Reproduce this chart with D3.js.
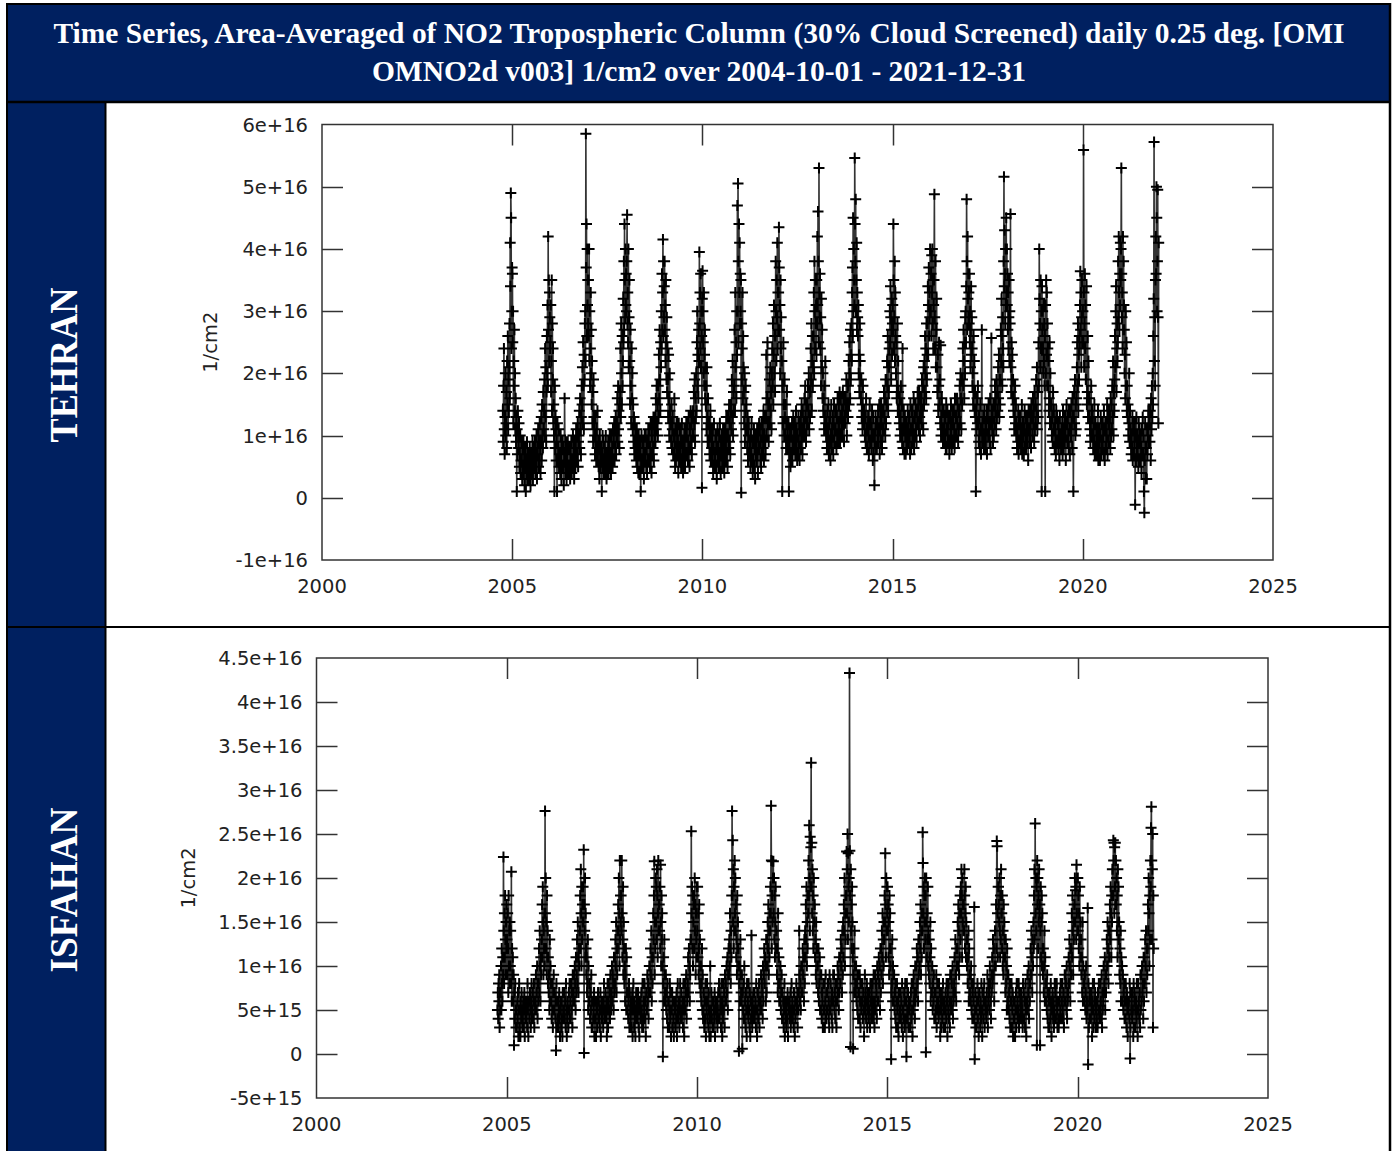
<!DOCTYPE html>
<html>
<head>
<meta charset="utf-8">
<script src="https://cdn.jsdelivr.net/npm/d3@7"></script>
<style>
  html, body { margin: 0; padding: 0; background: #fff; }
  svg { display: block; }
</style>
</head>
<body>
<svg id="chart" width="1395" height="1151"></svg>
<script>
// Area-averaged OMI NO2 tropospheric column in units of 1e15 molecules/cm2.
// Each year holds one row per month (2004 starts in October); the samples of a
// row are spread evenly over that month.
const tehran2004 = [[14,9,18,24,11,7,13,20,10],[12,17,8,22,15,26,11,19,14],[21,28,16,41,34,49,45,24,30,37]];
const tehran2005 = [[36,25,30,12,22,18,27,14,20,11],[16,9,13,1,11,7,14,10],[8,12,5,7,10,4,6,9],[6,3,8,5,9,4,7,2],[5,8,1,6,4,9,3,7],[5,3,7,4,8,6,2,5],[4,7,5,9,3,6,8,5],[6,9,4,7,5,10,3,8],[7,11,5,9,6,12,8,4],[9,13,6,15,10,8,17,11],[14,19,10,24,13,21,9,17,26],[20,31,18,42,27,35,22,33,29,24]];
const tehran2006 = [[25,31,17,22,35,14,28,19,24,12],[15,10,1,18,8,13,11,6],[9,1,12,6,8,11,5,7],[7,4,10,6,3,8,5,9],[5,8,2,6,16,7,4,9],[6,3,7,5,9,4,8,5],[8,5,3,7,6,9,4,6],[6,10,5,8,3,7,9,5],[8,11,6,10,7,12,5,9],[10,14,8,16,11,7,13,18],[15,21,12,25,18,11,23,19,28],[30,22,58.5,37,44,26,40,31,35,28]];
const tehran2007 = [[35,26,40,22,30,18,24,33,20,27],[15,22,12,17,9,19,13,11],[10,7,13,9,6,11,8,14],[6,9,5,8,3,10,7,5],[8,6,1,7,10,5,9,4],[6,8,4,7,10,5,3,7],[7,5,9,4,8,6,10,5],[7,4,10,6,8,5,11,6],[9,12,6,11,8,13,7,10],[12,16,9,18,11,14,8,15],[17,24,13,28,20,15,26,18,22],[32,25,38,27,44,35,29,40,31,36]];
const tehran2008 = [[30,38,45.5,28,33,25,40,21,29,35],[22,15,27,18,12,24,16,20],[11,15,9,13,7,12,8,10],[8,6,11,5,9,7,4,10],[7,9,4,8,1,6,10,5],[6,9,5,8,3,7,10,6],[7,10,5,8,4,9,6,11],[9,6,11,5,8,12,7,4],[10,7,12,8,13,6,11,9],[13,9,16,11,18,12,15,10],[18,13,23,16,27,19,14,25,21],[30,24,36,27,33,41.5,26,38,29,34]];
const tehran2009 = [[38,27,31,22,35,25,19,29,17,24],[19,13,23,16,10,20,14,12],[12,9,15,8,11,13,7,10],[7,16,9,5,11,6,8,12],[10,7,9,4,12,6,8,11],[7,10,5,9,12,6,8,4],[9,6,11,8,5,10,7,12],[10,7,12,6,9,13,8,5],[11,8,14,9,12,7,13,10],[14,10,17,12,19,9,16,13],[20,14,25,30,18,23,16,27,22],[39.5,28,33,24,36,21,30,26,1.6,32]];
const tehran2010 = [[36.5,30,25,20,33,18,23,27,16,21],[15,18,11,21,13,9,16,12],[9,12,7,10,14,6,11,8],[9,6,11,4,8,12,5,7],[7,10,5,9,3,8,11,6],[8,5,10,6,12,7,4,9],[7,10,5,8,11,6,9,4],[8,11,6,9,13,7,10,5],[10,13,8,15,9,12,7,14],[15,11,19,13,22,10,17,14],[18,27,14,33,21,25,16,30,23],[47,30,50.5,38,25,44,33,41,28,36]];
const tehran2011 = [[30,35,0.8,28,19,24,33,16,26,21],[17,12,20,9,14,18,11,15],[11,8,13,6,10,12,7,9],[8,5,10,7,12,6,9,4],[6,9,11,5,8,3,10,7],[9,6,11,7,4,10,8,12],[8,11,6,9,5,12,7,10],[12,8,14,6,10,13,9,7],[13,23,10,16,25,12,15,9],[15,19,12,21,14,17,11,20],[24,18,28,15,23,31,20,26,17],[26,38,30,22,35,29,41,24,33,27]];
const tehran2012 = [[33,43.5,37,27,31,20,35,24,29,22],[22,1,18,12,25,15,10,19],[13,10,15,8,12,17,9,11],[8,12,1,9,7,11,5,10],[10,7,12,6,9,13,8,11],[9,12,7,10,14,8,11,6],[10,7,13,9,12,6,11,8],[13,9,15,11,7,14,10,12],[12,16,10,18,13,9,15,11],[15,12,18,14,20,11,17,13],[17,24,19,28,14,22,26,18,21],[26,33,20,38,30,24,35,28,31,23]];
const tehran2013 = [[35,28,42,31,46,38,25,53,33,29],[36,24,29,18,32,21,27,16],[20,14,16,11,18,13,22,12],[10,12,8,14,9,11,15,7],[12,9,13,6,10,15,8,11],[10,13,7,12,15,9,11,14],[11,14,8,13,10,16,9,12],[15,11,17,9,13,16,10,12],[14,10,17,12,15,9,13,16],[12,16,14,19,10,15,18,13],[18,22,15,25,20,16,27,19,23],[28,22,33,37,26,45,30,40,35,31]];
const tehran2014 = [[54.6,44,38,48,30,35,41,27,33,29],[26,31,20,23,17,28,22,19],[16,19,13,15,11,18,12,14],[12,14,10,13,9,16,11,8],[11,8,13,10,7,12,15,9],[9,12,8,11,14,10,6,13],[7,10,2,9,11,13,8,12],[8,12,10,14,9,11,15,7],[11,13,9,15,12,8,14,10],[14,11,17,13,16,10,19,12],[19,15,22,18,26,14,21,17,24],[21,30,25,34,29,19,27,32,23,28]];
const tehran2015 = [[31,27,44,35,24,29,38,22,33,26],[20,25,16,18,28,14,22,17],[14,12,16,10,13,18,11,15],[9,24,8,11,14,12,7,13],[10,7,12,9,11,8,14,10],[12,9,13,10,7,15,11,8],[11,14,9,12,10,16,8,13],[13,10,15,11,9,14,12,17],[12,15,11,17,13,10,16,14],[16,12,19,14,18,11,21,15],[22,17,26,20,24,16,28,19,23],[28,34,23,31,37,26,33,29,40,30]];
const tehran2016 = [[30,36,26,39,33,40,28,35,24,31],[35,48.8,29,24,38,21,27,32],[21,17,23,14,18,25,15,19],[12,24.5,10,13,16,11,14,9],[11,14,9,12,10,13,8,15],[8,11,14,10,12,9,13,7],[9,13,11,15,10,8,12,14],[12,9,14,11,8,16,10,13],[13,10,16,12,15,9,14,11],[14,18,12,20,16,11,19,15],[19,24,18,27,22,16,25,20,29],[30,25,34,48,38,27,42,32,36,29]];
const tehran2017 = [[33,28,36,25,30,21,27,34,23,29],[24,18,20,15,26,17,22,14],[17,13,1,14,11,16,12,18],[12,9,13,10,8,15,11,7],[11,27,9,12,10,13,8,14],[10,8,12,9,11,14,7,13],[13,10,15,11,9,12,16,8],[12,25.7,14,11,13,9,15,10],[15,12,18,14,16,11,19,13],[17,14,21,16,23,13,19,15],[19,27,22,32,26,18,29,24,21],[38,51.6,34,43,36,28,40,31,45,33]];
const tehran2018 = [[40,31,36,27,33,24,29,35,22,30],[28,45.6,21,17,25,19,23,16],[19,14,16,11,13,18,12,15],[10,12,8,11,9,14,7,13],[12,9,13,10,8,11,15,7],[9,12,10,7,11,14,8,13],[10,8,12,9,13,11,6,14],[11,9,14,10,12,8,15,13],[13,10,16,12,14,9,17,11],[15,12,19,14,21,11,17,13],[25,18,40,32,28,21,35,24,30],[1,34,27,30,24,20,31,22,28,18]];
const tehran2019 = [[26,1,31,20,35,23,33,18,28,24],[18,22,14,16,25,12,20,15],[12,15,10,13,9,17,11,14],[11,8,12,10,7,14,9,13],[9,12,8,11,10,6,13,9],[10,8,11,9,12,7,14,10],[8,11,9,13,10,6,12,15],[12,9,13,10,8,14,11,7],[11,14,10,15,12,8,16,13],[1,13,17,12,19,10,15,11],[16,21,25,18,28,14,23,19,26],[24,31,36.4,27,33,21,29,35,25,30]];
const tehran2020 = [[30,25,55.9,33,21,28,36,24,31,19],[19,34,15,17,26,13,22,16],[13,16,11,9,12,18,10,14],[10,13,8,11,9,15,7,12],[12,8,10,7,11,9,14,6],[8,11,9,6,10,13,7,12],[9,12,8,10,7,14,11,6],[11,8,12,9,10,15,7,13],[12,9,14,11,13,8,16,10],[15,11,18,13,22,10,17,14],[19,26,21,30,34,17,24,28,22],[25,38,29,42,33,27,36,31,41,35]];
const tehran2021 = [[40,53,36,29,33,24,42,27,38,31],[27,20,23,16,30,18,25,14],[18,13,15,10,12,20,9,14],[9,11,7,10,8,13,6,12],[11,7,9,12,-1.1,10,6,13],[8,10,7,9,5,12,6,11],[9,6,10,8,4,11,7,13],[7,10,1,-2.4,6,12,8,3],[8,3,11,7,10,14,9,12],[12,9,14,6,16,11,18,13],[20,15,26,32,57.2,22,29,18,35],[42,36,50,45,30,38,49.5,29,12,41]];

const isfahan2004 = [[5,7,4,8,6,9,3,7,5],[7,10,5,12,8,6,11,9,22.4],[14,8,16,11,18,13,9,15,12,17]];
const isfahan2005 = [[13,9,16,12,7,18,10,14,8,15],[10,14,8,20.7,6,12,9,11],[6,9,1,7,4,8,5,3],[5,3,6,4,7,2,5,8],[3,5,2,6,4,7,5,3],[4,6,3,5,7,2,6,4],[5,4,6,3,8,5,2,6],[6,4,7,5,3,6,8,4],[5,7,4,6,8,3,6,5],[6,9,5,7,10,4,8,6],[8,12,7,14,10,6,11,9,13],[13,17,11,19,15,9,14,12,16,10]];
const isfahan2006 = [[27.6,16,20,12,15,9,18,11,14,8],[11,7,9,5,13,6,10,8],[6,4,8,5,3,7,9,5],[5,7,4,6,0.4,8,3,6],[4,6,3,5,7,4,2,6],[5,3,6,4,2,7,5,4],[5,7,4,6,3,8,5,2],[4,6,5,3,7,5,8,4],[6,4,8,5,7,3,9,6],[7,9,6,10,8,5,11,7],[9,13,8,15,11,7,12,10,14],[14,18,12,21,16,10,19,13,17,15]];
const isfahan2007 = [[19,15,23.2,0.1,17,14,20,11,16,12],[9,11,7,8,13,5,10,6],[6,8,4,7,5,9,3,6],[3,6,4,5,7,2,6,4],[4,2,5,6,3,5,7,4],[6,4,3,5,7,2,5,6],[4,6,5,3,6,8,4,5],[5,7,4,6,2,5,8,3],[6,8,5,7,4,9,6,5],[7,10,6,9,8,5,11,7],[11,8,13,10,15,7,12,9,14],[12,17,14,20,16,10,22,13,18,15]];
const isfahan2008 = [[18,14,22,16,11,13,19,9,15,12],[8,10,6,9,12,5,11,7],[5,7,4,6,8,3,7,5],[4,6,3,5,7,2,6,8],[5,3,6,4,2,5,7,4],[6,4,5,7,3,6,2,5],[5,6,4,7,5,3,8,4],[3,6,5,8,4,6,2,7],[7,5,9,6,8,4,7,10],[10,7,12,9,14,6,11,8],[11,16,13,18,21.9,9,15,12,20],[15,19,13,21,18,11,16,22,14,17]];
const isfahan2009 = [[17,14,19,12,21.5,15,10,18,13,16],[10,-0.3,8,11,6,13,9,7],[6,9,5,7,4,8,3,6],[6,3,5,8,4,7,2,5],[5,7,3,6,4,2,6,5],[5,3,6,4,7,2,5,8],[4,6,5,3,6,8,4,5],[7,4,5,6,3,8,5,2],[6,8,5,7,9,4,7,6],[8,11,7,12,10,6,9,13],[13,25.3,16,19,12,18,10,15,17],[18,12,20,14,17,9,16,13,19,11]];
const isfahan2010 = [[14,19,11,16,9,12,17,8,13,10],[7,10,6,8,12,5,9,4],[5,7,3,6,4,8,2,6],[5,8,4,6,3,7,5,2],[4,10,2,5,7,4,6,3],[6,3,5,4,7,2,6,5],[5,4,6,3,5,7,4,8],[4,7,5,6,3,8,5,2],[6,4,8,5,7,3,9,6],[8,6,10,7,11,5,9,12],[9,13,10,16,12,8,14,11,18],[27.6,18,24.3,15,21,12,19,14,22,16]];
const isfahan2011 = [[20,14,17,11,13,9,18,12,15,10],[12,0.3,8,10,6,13,9,7],[6,9,0.6,7,5,8,4,10],[4,6,3,7,5,2,8,5],[6,4,8,5,3,7,2,6],[4,13.5,5,3,6,4,7,5],[7,4,5,6,3,8,5,2],[5,7,4,6,8,3,6,5],[6,9,5,8,7,4,10,6],[9,12,8,11,10,6,13,7],[13,10,15,12,17,9,14,11,16],[14,19,16,28.2,22,12,18,21.9,15,20]];
const isfahan2012 = [[21.9,16,20,13,18,11,15,19,12,14],[14,9,12,7,16,8,11,6],[8,6,10,5,7,9,4,7],[4,6,3,5,8,2,6,4],[5,3,6,4,7,2,5,6],[5,6,4,7,3,5,8,4],[6,4,5,3,7,5,2,6],[4,6,8,5,6,3,7,5],[7,14,9,6,8,5,10,7],[10,7,12,9,11,6,13,8],[14,11,17,13,19,10,15,12,18],[16,22,18,26,20,14,24.7,19,23.5,33.1]];
const isfahan2013 = [[19,24,16,21,14,18,12,20,15,17],[17,11,13,9,15,8,12,10],[10,7,12,6,8,11,5,9],[5,9,4,7,6,3,8,5],[8,5,3,6,9,4,7,5],[7,5,8,4,6,3,9,5],[5,8,6,4,7,3,6,9],[6,9,5,7,4,8,6,3],[8,6,10,7,9,5,11,7],[11,8,13,10,12,7,14,9],[15,11,17,14,20,10,16,13,18],[18,23,16,21,25,13,22.8,19,15,20]];
const isfahan2014 = [[43.3,23.1,18,0.8,21,14,17,12,19,15],[11,0.6,9,12,7,14,10,8],[7,10,6,8,5,9,4,7],[7,4,9,6,3,8,5,6],[6,8,4,7,5,2,6,9],[5,7,4,6,8,3,5,7],[6,4,7,5,3,8,6,4],[7,5,8,6,4,9,5,3],[6,9,5,8,7,4,10,6],[9,6,11,8,10,5,12,7],[12,9,14,11,16,8,13,10,15],[13,18,15,22.8,17,11,20,14,19,16]];
const isfahan2015 = [[19,14,17,11,15,9,18,12,16,10],[12,-0.6,7,8,13,6,10,9],[6,9,5,7,4,8,3,6],[8,5,3,6,2,7,4,5],[5,7,4,6,3,8,5,2],[5,4,7,6,3,8,4,6],[-0.3,8,5,4,7,3,6,5],[5,6,3,7,4,8,5,2],[8,5,9,6,7,4,10,6],[10,7,12,8,11,6,13,9],[13,10,15,12,17,9,14,11,16],[14,25.2,21.7,16,19,12,18,15,20,13]];
const isfahan2016 = [[18,0.2,20,15,11,16,13,19,10,14],[9,13,8,11,15,6,12,7],[7,10,5,8,6,9,4,7],[4,7,5,9,3,6,8,5],[6,4,8,5,7,2,6,3],[5,7,4,6,8,3,5,6],[6,3,7,5,4,8,6,2],[7,5,8,4,6,3,9,5],[9,6,8,5,10,4,7,6],[8,11,7,13,9,6,12,10],[12,15,10,17,14,9,16,11,18],[13,19,16,21,18,11,20,15,17,14]];
const isfahan2017 = [[17,14,21,18,12,16,19,11,15,13],[10,13,8,11,14,6,12,9],[7,9,6,10,5,8,4,7],[8,6,4,16.7,-0.6,5,7,3],[5,3,6,8,4,6,2,7],[7,5,3,6,4,8,5,2],[5,7,4,6,8,3,6,5],[6,4,7,5,9,3,6,8],[7,5,10,8,6,4,9,7],[11,8,13,9,12,6,10,14],[14,10,17,12,24.2,23.6,16,11,19],[19,17,15,20,14,11,18,13,21,16]];
const isfahan2018 = [[16,12,18,10,14,9,17,11,15,13],[11,7,13,8,10,5,12,9],[6,9,5,7,4,8,3,6],[6,8,3,5,7,2,6,4],[4,6,2,5,7,3,8,5],[6,4,5,8,3,7,4,6],[5,7,4,6,5,3,8,4],[7,4,6,3,8,5,2,6],[6,9,5,7,10,4,8,6],[8,12,9,14,11,7,13,10],[15,12,18,21,13,26.2,16,20,14],[19,1,22,17,20,12,18,15,21,16]];
const isfahan2019 = [[17,1,14,19,11,15,18,10,16,12],[9,12,7,10,14,6,11,8],[6,8,5,9,4,7,3,6],[7,3,6,4,8,5,2,6],[5,7,4,6,3,5,8,4],[7,4,6,8,5,3,6,4],[3,6,4,7,5,8,4,6],[6,8,5,4,7,3,6,9],[9,6,8,5,10,4,7,6],[7,11,8,13,10,6,12,9],[12,16,11,18,14,9,15,13,17],[17,20,15,18.6,19,13,21.5,16,20,14]];
const isfahan2020 = [[20,14,18,12,16,10,19,13,15,11],[13,9,11,7,15,6,10,8],[8,6,9,5,7,10,4,6],[5,16.6,-1.2,8,3,6,4,7],[6,4,7,5,2,6,8,3],[5,8,4,6,7,3,5,6],[4,6,3,7,5,8,4,5],[8,5,6,4,9,3,7,5],[6,10,7,8,11,5,9,7],[9,13,10,15,12,8,14,11],[14,17,13,19,16,11,18,15,21],[21,18,24.3,22,24,16,23.5,19,24,17]];
const isfahan2021 = [[22,17,20,14,18,11,21,15,19,13],[15,9,12,8,14,6,11,10],[10,6,9,5,7,8,4,6],[4,8,6,3,7,5,2,6],[5,6,4,8,-0.5,3,7,5],[6,4,7,5,2,8,3,6],[7,5,3,6,4,8,5,2],[8,5,6,4,7,3,9,5],[9,6,10,7,8,4,11,6],[11,8,13,10,14,7,12,9],[12,17,14,20,16,10,18,13,22],[19,25.7,28.1,22,13,21,25,3,18,12]];

// Axis ticks and their labels
const yearTicks = [2000, 2005, 2010, 2015, 2020, 2025];
const tehranTicks = [-1e16, 0, 1e16, 2e16, 3e16, 4e16, 5e16, 6e16];
const tehranTickLabels = ["-1e+16", "0", "1e+16", "2e+16", "3e+16", "4e+16", "5e+16", "6e+16"];
const isfahanTicks = [-5e15, 0, 5e15, 1e16, 1.5e16, 2e16, 2.5e16, 3e16, 3.5e16, 4e16, 4.5e16];
const isfahanTickLabels = ["-5e+15", "0", "5e+15", "1e+16", "1.5e+16", "2e+16", "2.5e+16", "3e+16", "3.5e+16", "4e+16", "4.5e+16"];

const titleLines = [
  "Time Series, Area-Averaged of NO2 Tropospheric Column (30% Cloud Screened) daily 0.25 deg. [OMI",
  "OMNO2d v003] 1/cm2 over 2004-10-01 - 2021-12-31"
];

const tehranYears = [tehran2004, tehran2005, tehran2006, tehran2007, tehran2008, tehran2009,
  tehran2010, tehran2011, tehran2012, tehran2013, tehran2014, tehran2015, tehran2016,
  tehran2017, tehran2018, tehran2019, tehran2020, tehran2021];
const isfahanYears = [isfahan2004, isfahan2005, isfahan2006, isfahan2007, isfahan2008, isfahan2009,
  isfahan2010, isfahan2011, isfahan2012, isfahan2013, isfahan2014, isfahan2015, isfahan2016,
  isfahan2017, isfahan2018, isfahan2019, isfahan2020, isfahan2021];

// Turn the per-month rows into dated records
function toSeries(years) {
  const out = [];
  years.forEach((rows, k) => {
    const year = 2004 + k;
    const firstMonth = k === 0 ? 9 : 0;
    rows.forEach((row, r) => {
      const m0 = new Date(year, firstMonth + r, 1);
      const days = d3.timeDay.count(m0, d3.timeMonth.offset(m0, 1));
      row.forEach((v, i) => {
        const t = m0.getTime() + (i + 0.5) * days / row.length * 864e5;
        out.push({ date: new Date(t), value: v * 1e15 });
      });
    });
  });
  return out;
}

const NAVY = "#002060";
const svg = d3.select("#chart");

// ---- frame: title band, side bands, dividers ----
svg.append("rect").attr("x", 7).attr("y", 4).attr("width", 1383).attr("height", 98).attr("fill", NAVY);
svg.append("rect").attr("x", 7).attr("y", 102).attr("width", 98).attr("height", 1060).attr("fill", NAVY);

const frame = svg.append("g").attr("stroke", "#000").attr("fill", "none");
frame.append("line").attr("x1", 6).attr("x2", 1391).attr("y1", 4).attr("y2", 4).attr("stroke-width", 2);
frame.append("line").attr("x1", 6).attr("x2", 1391).attr("y1", 102).attr("y2", 102).attr("stroke-width", 2.5);
frame.append("line").attr("x1", 7).attr("x2", 7).attr("y1", 3).attr("y2", 1151).attr("stroke-width", 2);
frame.append("line").attr("x1", 105.5).attr("x2", 105.5).attr("y1", 102).attr("y2", 1151).attr("stroke-width", 2);
frame.append("line").attr("x1", 1390).attr("x2", 1390).attr("y1", 3).attr("y2", 1151).attr("stroke-width", 2.5);
frame.append("line").attr("x1", 6).attr("x2", 1391).attr("y1", 627).attr("y2", 627).attr("stroke-width", 2);

// ---- title ----
const title = svg.append("g")
  .attr("font-family", "'Liberation Serif', 'Times New Roman', serif")
  .attr("font-weight", "bold")
  .attr("fill", "#fff")
  .attr("text-anchor", "middle");
const t1 = title.append("text").attr("x", 699).attr("y", 43).attr("font-size", 26).text(titleLines[0]);
const fitSize = 26 * 1292 / t1.node().getComputedTextLength();
t1.attr("font-size", fitSize);
title.append("text").attr("x", 699).attr("y", 81).attr("font-size", fitSize).text(titleLines[1]);

// ---- side labels ----
function sideLabel(text, cy, len) {
  svg.append("text")
    .attr("transform", `translate(77,${cy}) rotate(-90)`)
    .attr("text-anchor", "middle")
    .attr("font-family", "'Liberation Serif', 'Times New Roman', serif")
    .attr("font-weight", "bold")
    .attr("font-size", 40)
    .attr("fill", "#fff")
    .attr("textLength", len)
    .attr("lengthAdjust", "spacingAndGlyphs")
    .text(text);
}
sideLabel("TEHRAN", 365, 155);
sideLabel("ISFAHAN", 890, 165);

// ---- one panel ----
function panel(cfg) {
  const x = d3.scaleTime()
    .domain([new Date(2000, 0, 1), new Date(2025, 0, 1)])
    .range([cfg.left, cfg.right]);
  const y = d3.scaleLinear().domain(cfg.yDomain).range([cfg.bottom, cfg.top]);
  const g = svg.append("g");
  const tick = 21;
  const axisColor = "#333";
  const font = "'DejaVu Sans', sans-serif";

  // inward ticks on all four sides
  const innerYears = yearTicks.slice(1, -1);
  const innerY = cfg.ticks.slice(1, -1);
  const tg = g.append("g").attr("stroke", axisColor).attr("stroke-width", 1.5);
  innerYears.forEach(yr => {
    const px = Math.round(x(new Date(yr, 0, 1))) + 0.5;
    tg.append("line").attr("x1", px).attr("x2", px).attr("y1", cfg.bottom).attr("y2", cfg.bottom - tick);
    tg.append("line").attr("x1", px).attr("x2", px).attr("y1", cfg.top).attr("y2", cfg.top + tick);
  });
  innerY.forEach(v => {
    const py = Math.round(y(v)) + 0.5;
    tg.append("line").attr("x1", cfg.left).attr("x2", cfg.left + tick).attr("y1", py).attr("y2", py);
    tg.append("line").attr("x1", cfg.right).attr("x2", cfg.right - tick).attr("y1", py).attr("y2", py);
  });

  // tick labels
  const lg = g.append("g").attr("font-family", font).attr("font-size", 19.5).attr("fill", "#222");
  yearTicks.forEach(yr => {
    lg.append("text").attr("x", x(new Date(yr, 0, 1))).attr("y", cfg.bottom + 33)
      .attr("text-anchor", "middle").text(yr);
  });
  cfg.ticks.forEach((v, i) => {
    lg.append("text").attr("x", cfg.left - 14).attr("y", y(v) + 7)
      .attr("text-anchor", "end").text(cfg.tickLabels[i]);
  });
  lg.append("text")
    .attr("transform", `translate(${cfg.yLabelX},${(cfg.top + cfg.bottom) / 2}) rotate(-90)`)
    .attr("text-anchor", "middle").text("1/cm2");

  // series: dark gray connecting line plus black "+" markers
  const data = toSeries(cfg.years);
  const line = d3.line().x(d => x(d.date)).y(d => y(d.value));
  g.append("path").datum(data).attr("d", line)
    .attr("fill", "none").attr("stroke", "#333").attr("stroke-width", 1.6);
  const r = 5.5;
  g.append("path")
    .attr("d", data.map(d => {
      const px = x(d.date), py = y(d.value);
      return `M${px - r},${py}H${px + r}M${px},${py - r}V${py + r}`;
    }).join(""))
    .attr("fill", "none").attr("stroke", "#000").attr("stroke-width", 2);

  // plot border
  g.append("rect")
    .attr("x", cfg.left).attr("y", cfg.top)
    .attr("width", cfg.right - cfg.left).attr("height", cfg.bottom - cfg.top)
    .attr("fill", "none").attr("stroke", axisColor).attr("stroke-width", 1.5);
}

panel({
  left: 322, right: 1273, top: 124.5, bottom: 560,
  yDomain: [-1e16, 6e16], ticks: tehranTicks, tickLabels: tehranTickLabels,
  yLabelX: 217, years: tehranYears
});
panel({
  left: 316.5, right: 1268, top: 658, bottom: 1098,
  yDomain: [-5e15, 4.5e16], ticks: isfahanTicks, tickLabels: isfahanTickLabels,
  yLabelX: 195, years: isfahanYears
});
</script>
</body>
</html>
